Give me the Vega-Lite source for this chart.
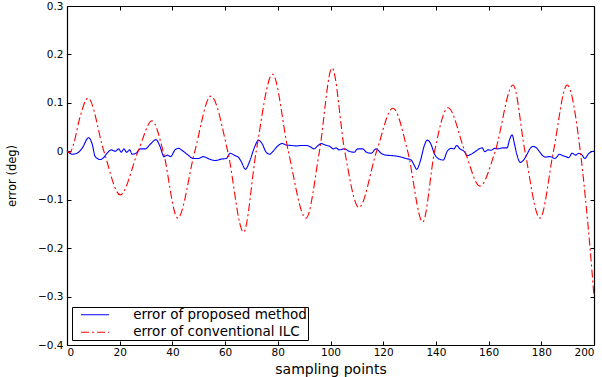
{
  "$schema": "https://vega.github.io/schema/vega-lite/v6.json",
  "width": 527,
  "height": 339,
  "autosize": {"type": "none"},
  "padding": {"left": 67, "top": 6, "right": 8, "bottom": 32},
  "background": "white",
  "config": {
    "view": {"stroke": null},
    "font": "DejaVu Sans",
    "axis": {"grid": false, "domainColor": "black", "domainWidth": 1.2, "tickColor": "black", "tickWidth": 1, "labelColor": "black", "titleColor": "black", "labelFont": "DejaVu Sans", "titleFont": "DejaVu Sans", "titleFontWeight": "normal"}
  },
  "data": {"values": [
    {"series": "error of proposed method", "x": 0, "y": 0.002},
    {"series": "error of proposed method", "x": 1.9, "y": -0.006},
    {"series": "error of proposed method", "x": 3.8, "y": -0.004},
    {"series": "error of proposed method", "x": 5.7, "y": 0.006},
    {"series": "error of proposed method", "x": 8.2, "y": 0.028},
    {"series": "error of proposed method", "x": 9.5, "y": 0.016},
    {"series": "error of proposed method", "x": 10.7, "y": -0.011},
    {"series": "error of proposed method", "x": 12.6, "y": -0.017},
    {"series": "error of proposed method", "x": 13.9, "y": -0.013},
    {"series": "error of proposed method", "x": 15.2, "y": -0.004},
    {"series": "error of proposed method", "x": 16.8, "y": 0.003},
    {"series": "error of proposed method", "x": 18.3, "y": 0},
    {"series": "error of proposed method", "x": 19.6, "y": 0.005},
    {"series": "error of proposed method", "x": 20.6, "y": -0.002},
    {"series": "error of proposed method", "x": 21.6, "y": 0.005},
    {"series": "error of proposed method", "x": 22.6, "y": -0.002},
    {"series": "error of proposed method", "x": 23.8, "y": 0.003},
    {"series": "error of proposed method", "x": 24.7, "y": -0.006},
    {"series": "error of proposed method", "x": 26.2, "y": -0.004},
    {"series": "error of proposed method", "x": 27.8, "y": 0.005},
    {"series": "error of proposed method", "x": 29.7, "y": 0.005},
    {"series": "error of proposed method", "x": 31.5, "y": 0.014},
    {"series": "error of proposed method", "x": 33.8, "y": 0.024},
    {"series": "error of proposed method", "x": 35.3, "y": 0.01},
    {"series": "error of proposed method", "x": 36.8, "y": -0.011},
    {"series": "error of proposed method", "x": 38.1, "y": -0.008},
    {"series": "error of proposed method", "x": 39.3, "y": -0.011},
    {"series": "error of proposed method", "x": 41, "y": 0.003},
    {"series": "error of proposed method", "x": 42.3, "y": 0.006},
    {"series": "error of proposed method", "x": 44.1, "y": 0},
    {"series": "error of proposed method", "x": 46, "y": -0.008},
    {"series": "error of proposed method", "x": 47.9, "y": -0.015},
    {"series": "error of proposed method", "x": 49.8, "y": -0.015},
    {"series": "error of proposed method", "x": 51.7, "y": -0.011},
    {"series": "error of proposed method", "x": 54, "y": -0.016},
    {"series": "error of proposed method", "x": 56.2, "y": -0.019},
    {"series": "error of proposed method", "x": 58.7, "y": -0.016},
    {"series": "error of proposed method", "x": 60.4, "y": -0.015},
    {"series": "error of proposed method", "x": 61.9, "y": -0.004},
    {"series": "error of proposed method", "x": 63.8, "y": -0.009},
    {"series": "error of proposed method", "x": 65, "y": -0.012},
    {"series": "error of proposed method", "x": 66.1, "y": -0.021},
    {"series": "error of proposed method", "x": 67.7, "y": -0.037},
    {"series": "error of proposed method", "x": 69.3, "y": -0.021},
    {"series": "error of proposed method", "x": 71, "y": 0.006},
    {"series": "error of proposed method", "x": 72.7, "y": 0.023},
    {"series": "error of proposed method", "x": 74, "y": 0.016},
    {"series": "error of proposed method", "x": 75.6, "y": -0.002},
    {"series": "error of proposed method", "x": 76.9, "y": -0.006},
    {"series": "error of proposed method", "x": 78.2, "y": 0},
    {"series": "error of proposed method", "x": 79.8, "y": 0.01},
    {"series": "error of proposed method", "x": 81.6, "y": 0.016},
    {"series": "error of proposed method", "x": 83.2, "y": 0.013},
    {"series": "error of proposed method", "x": 85.1, "y": 0.012},
    {"series": "error of proposed method", "x": 87, "y": 0.011},
    {"series": "error of proposed method", "x": 88.9, "y": 0.012},
    {"series": "error of proposed method", "x": 90.8, "y": 0.012},
    {"series": "error of proposed method", "x": 92.1, "y": 0.01},
    {"series": "error of proposed method", "x": 93.7, "y": 0.005},
    {"series": "error of proposed method", "x": 95.3, "y": 0.012},
    {"series": "error of proposed method", "x": 96.5, "y": 0.016},
    {"series": "error of proposed method", "x": 98, "y": 0.013},
    {"series": "error of proposed method", "x": 99.8, "y": 0.01},
    {"series": "error of proposed method", "x": 101.1, "y": 0.005},
    {"series": "error of proposed method", "x": 102.1, "y": 0.007},
    {"series": "error of proposed method", "x": 103.3, "y": 0.003},
    {"series": "error of proposed method", "x": 105.2, "y": 0.005},
    {"series": "error of proposed method", "x": 107.1, "y": 0},
    {"series": "error of proposed method", "x": 109, "y": -0.002},
    {"series": "error of proposed method", "x": 110.3, "y": 0.005},
    {"series": "error of proposed method", "x": 112.2, "y": 0.005},
    {"series": "error of proposed method", "x": 113.7, "y": -0.002},
    {"series": "error of proposed method", "x": 115.4, "y": -0.004},
    {"series": "error of proposed method", "x": 117.3, "y": 0.005},
    {"series": "error of proposed method", "x": 119.2, "y": -0.004},
    {"series": "error of proposed method", "x": 121.1, "y": -0.008},
    {"series": "error of proposed method", "x": 123.6, "y": -0.009},
    {"series": "error of proposed method", "x": 126.1, "y": -0.011},
    {"series": "error of proposed method", "x": 128.7, "y": -0.015},
    {"series": "error of proposed method", "x": 130.6, "y": -0.018},
    {"series": "error of proposed method", "x": 131.7, "y": -0.028},
    {"series": "error of proposed method", "x": 132.7, "y": -0.037},
    {"series": "error of proposed method", "x": 134.2, "y": -0.018},
    {"series": "error of proposed method", "x": 135.5, "y": 0.01},
    {"series": "error of proposed method", "x": 136.7, "y": 0.023},
    {"series": "error of proposed method", "x": 138, "y": 0.016},
    {"series": "error of proposed method", "x": 139.5, "y": -0.006},
    {"series": "error of proposed method", "x": 141.2, "y": -0.016},
    {"series": "error of proposed method", "x": 142.8, "y": -0.018},
    {"series": "error of proposed method", "x": 144.3, "y": 0},
    {"series": "error of proposed method", "x": 145.8, "y": 0.006},
    {"series": "error of proposed method", "x": 146.8, "y": 0.005},
    {"series": "error of proposed method", "x": 147.9, "y": 0.012},
    {"series": "error of proposed method", "x": 149.1, "y": 0.005},
    {"series": "error of proposed method", "x": 150.7, "y": 0},
    {"series": "error of proposed method", "x": 151.9, "y": -0.009},
    {"series": "error of proposed method", "x": 153.4, "y": -0.006},
    {"series": "error of proposed method", "x": 155.1, "y": 0},
    {"series": "error of proposed method", "x": 156.4, "y": 0.005},
    {"series": "error of proposed method", "x": 157.6, "y": 0.007},
    {"series": "error of proposed method", "x": 158.5, "y": -0.001},
    {"series": "error of proposed method", "x": 159.8, "y": 0.003},
    {"series": "error of proposed method", "x": 161, "y": 0.002},
    {"series": "error of proposed method", "x": 162.3, "y": 0.006},
    {"series": "error of proposed method", "x": 163.5, "y": 0.005},
    {"series": "error of proposed method", "x": 165.2, "y": 0.007},
    {"series": "error of proposed method", "x": 167, "y": 0.007},
    {"series": "error of proposed method", "x": 167.9, "y": 0.023},
    {"series": "error of proposed method", "x": 168.9, "y": 0.034},
    {"series": "error of proposed method", "x": 169.9, "y": 0.013},
    {"series": "error of proposed method", "x": 170.8, "y": -0.008},
    {"series": "error of proposed method", "x": 172, "y": -0.023},
    {"series": "error of proposed method", "x": 173.3, "y": -0.018},
    {"series": "error of proposed method", "x": 174.6, "y": -0.006},
    {"series": "error of proposed method", "x": 175.8, "y": 0.006},
    {"series": "error of proposed method", "x": 176.7, "y": 0.01},
    {"series": "error of proposed method", "x": 178, "y": 0.008},
    {"series": "error of proposed method", "x": 179.2, "y": 0},
    {"series": "error of proposed method", "x": 180.5, "y": -0.009},
    {"series": "error of proposed method", "x": 181.8, "y": -0.012},
    {"series": "error of proposed method", "x": 183, "y": -0.011},
    {"series": "error of proposed method", "x": 184, "y": -0.012},
    {"series": "error of proposed method", "x": 185.1, "y": -0.015},
    {"series": "error of proposed method", "x": 186, "y": -0.011},
    {"series": "error of proposed method", "x": 186.8, "y": -0.006},
    {"series": "error of proposed method", "x": 188.1, "y": -0.009},
    {"series": "error of proposed method", "x": 189.3, "y": -0.011},
    {"series": "error of proposed method", "x": 190.4, "y": -0.013},
    {"series": "error of proposed method", "x": 191.7, "y": -0.004},
    {"series": "error of proposed method", "x": 193, "y": -0.008},
    {"series": "error of proposed method", "x": 194.2, "y": -0.004},
    {"series": "error of proposed method", "x": 195.5, "y": -0.008},
    {"series": "error of proposed method", "x": 196.5, "y": -0.015},
    {"series": "error of proposed method", "x": 197.8, "y": -0.006},
    {"series": "error of proposed method", "x": 198.7, "y": -0.002},
    {"series": "error of proposed method", "x": 200, "y": 0},
    {"series": "error of conventional ILC", "x": 0, "y": 0},
    {"series": "error of conventional ILC", "x": 1, "y": -0.003},
    {"series": "error of conventional ILC", "x": 2.5, "y": 0.015},
    {"series": "error of conventional ILC", "x": 5, "y": 0.072},
    {"series": "error of conventional ILC", "x": 8, "y": 0.11},
    {"series": "error of conventional ILC", "x": 14, "y": 0},
    {"series": "error of conventional ILC", "x": 20.2, "y": -0.09},
    {"series": "error of conventional ILC", "x": 27, "y": 0},
    {"series": "error of conventional ILC", "x": 32.3, "y": 0.063},
    {"series": "error of conventional ILC", "x": 36.5, "y": 0},
    {"series": "error of conventional ILC", "x": 42, "y": -0.138},
    {"series": "error of conventional ILC", "x": 48.5, "y": 0},
    {"series": "error of conventional ILC", "x": 54.6, "y": 0.114},
    {"series": "error of conventional ILC", "x": 61, "y": 0},
    {"series": "error of conventional ILC", "x": 67, "y": -0.167},
    {"series": "error of conventional ILC", "x": 71.8, "y": 0},
    {"series": "error of conventional ILC", "x": 78, "y": 0.159},
    {"series": "error of conventional ILC", "x": 84, "y": 0},
    {"series": "error of conventional ILC", "x": 90.7, "y": -0.138},
    {"series": "error of conventional ILC", "x": 95.8, "y": 0},
    {"series": "error of conventional ILC", "x": 100.6, "y": 0.172},
    {"series": "error of conventional ILC", "x": 105.4, "y": 0},
    {"series": "error of conventional ILC", "x": 110.8, "y": -0.116},
    {"series": "error of conventional ILC", "x": 117.5, "y": 0},
    {"series": "error of conventional ILC", "x": 123.7, "y": 0.089},
    {"series": "error of conventional ILC", "x": 129.3, "y": 0},
    {"series": "error of conventional ILC", "x": 135, "y": -0.146},
    {"series": "error of conventional ILC", "x": 139.5, "y": 0},
    {"series": "error of conventional ILC", "x": 144.6, "y": 0.09},
    {"series": "error of conventional ILC", "x": 151, "y": 0},
    {"series": "error of conventional ILC", "x": 156.7, "y": -0.072},
    {"series": "error of conventional ILC", "x": 162.5, "y": 0},
    {"series": "error of conventional ILC", "x": 169.3, "y": 0.137},
    {"series": "error of conventional ILC", "x": 173.8, "y": 0},
    {"series": "error of conventional ILC", "x": 179.5, "y": -0.138},
    {"series": "error of conventional ILC", "x": 184.6, "y": 0},
    {"series": "error of conventional ILC", "x": 189.8, "y": 0.137},
    {"series": "error of conventional ILC", "x": 194.8, "y": 0},
    {"series": "error of conventional ILC", "x": 196.8, "y": -0.1},
    {"series": "error of conventional ILC", "x": 198.5, "y": -0.2},
    {"series": "error of conventional ILC", "x": 200, "y": -0.3}
  ]},
  "layer": [
    {
      "mark": {"type": "line", "interpolate": "monotone", "strokeWidth": 1.1},
      "encoding": {
        "x": {"field": "x", "type": "quantitative", "scale": {"domain": [0, 200], "nice": false},
          "axis": {"values": [0, 20, 40, 60, 80, 100, 120, 140, 160, 180, 200], "tickSize": -4, "labelPadding": 6, "labelFontSize": 10.5, "title": "sampling points", "titleFontSize": 14, "titleY": 24, "titleBaseline": "middle"}},
        "y": {"field": "y", "type": "quantitative", "scale": {"domain": [-0.4, 0.3], "nice": false, "zero": false},
          "axis": {"values": [-0.4, -0.3, -0.2, -0.1, 0, 0.1, 0.2, 0.3], "format": "~g", "tickSize": -4, "labelPadding": 8, "labelFontSize": 10.5, "title": "error (deg)", "titleFontSize": 11.5, "titleX": -55, "titleBaseline": "middle"}},
        "color": {"field": "series", "type": "nominal",
          "scale": {"domain": ["error of proposed method", "error of conventional ILC"], "range": ["#0000ff", "#ff0000"]},
          "legend": {"title": null, "orient": "bottom-left", "offset": 5, "strokeColor": "black", "fillColor": "white", "padding": 1, "rowPadding": 2.5, "labelFont": "DejaVu Sans", "labelFontSize": 13.5, "labelColor": "black", "labelLimit": 400, "symbolType": "M-5,0H5", "symbolSize": 31.4, "symbolStrokeWidth": 1.2, "symbolOffset": 15.25, "labelOffset": 31.5,
            "encode": {"symbols": {"update": {"stroke": {"scale": "color", "field": "value"}}}}}},
        "strokeDash": {"field": "series", "type": "nominal",
          "scale": {"domain": ["error of proposed method", "error of conventional ILC"], "range": [[1, 0], [8, 3, 2, 3]]},
          "legend": {"title": null, "orient": "bottom-left", "offset": 5, "strokeColor": "black", "fillColor": "white", "padding": 1, "rowPadding": 2.5, "labelFont": "DejaVu Sans", "labelFontSize": 13.5, "labelColor": "black", "labelLimit": 400, "symbolType": "M-5,0H5", "symbolSize": 31.4, "symbolStrokeWidth": 1.2, "symbolOffset": 15.25, "labelOffset": 31.5,
            "encode": {"symbols": {"update": {"stroke": {"scale": "color", "field": "value"}}}}}}
      }
    },
    {
      "mark": {"type": "point", "opacity": 0},
      "encoding": {
        "x": {"field": "x", "type": "quantitative", "axis": {"orient": "top", "values": [0, 20, 40, 60, 80, 100, 120, 140, 160, 180, 200], "tickSize": -4, "labels": false, "title": null}},
        "y": {"field": "y", "type": "quantitative", "axis": {"orient": "right", "values": [-0.4, -0.3, -0.2, -0.1, 0, 0.1, 0.2, 0.3], "tickSize": -4, "labels": false, "title": null}}
      }
    }
  ],
  "resolve": {"axis": {"x": "independent", "y": "independent"}}
}
